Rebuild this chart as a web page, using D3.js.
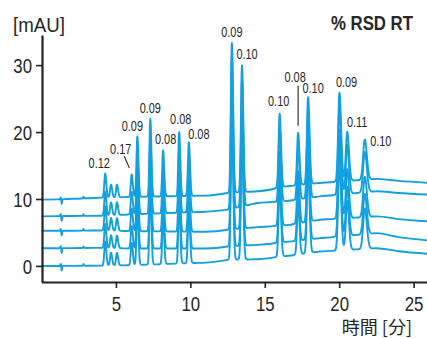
<!DOCTYPE html>
<html><head><meta charset="utf-8">
<script src="https://cdn.jsdelivr.net/npm/d3@7/dist/d3.min.js"></script>
<style>
body{margin:0;background:#fff;}
svg{display:block;}
text{font-family:"Liberation Sans",Arial,sans-serif;fill:#262626;}
</style></head><body><svg id="c" width="427" height="338"></svg>
<script>
// ---- data ----
const peakTimes = [4.28, 4.67, 5.07, 6.06, 6.44, 7.31, 8.17, 9.25, 9.90, 12.79, 13.47, 16.00, 17.24, 17.91, 20.02, 20.54, 21.72];
const peakApex  = [13.8, 12.15, 12.15, 13.65, 19.4, 22.0, 17.3, 20.0, 18.5, 33.35, 30.0, 22.75, 19.9, 25.25, 25.9, 20.05, 18.9];
const peakSigma = [0.06, 0.06, 0.06, 0.06, 0.058, 0.058, 0.058, 0.058, 0.062, 0.068, 0.068, 0.072, 0.072, 0.078, 0.088, 0.092, 0.11];
const rsdLabels = ["0.12", "", "", "0.17", "0.09", "0.09", "0.08", "0.08", "0.08", "0.09", "0.10", "0.10", "0.08", "0.10", "0.09", "0.11", "0.10"];
const artifactTimes   = [1.29, 1.36, 2.82];
const artifactHeights = [0.3, -0.7, 0.25];
const baselineTimes = [0, 1.2, 4, 6, 11, 12.5, 14.5, 16.5, 18.7, 22.5, 24, 26];
const traceA = [9.9, 9.95, 10.2, 10.3, 10.5, 10.9, 11.15, 11.9, 12.4, 13.0, 12.7, 12.4];
const traceB = [7.4, 7.45, 7.5, 7.7, 8.1, 8.4, 9.4, 9.7, 10.4, 11.15, 10.9, 10.65];
const traceC = [5.25, 5.25, 5.3, 5.2, 5.1, 5.4, 5.8, 6.1, 6.9, 7.4, 7.0, 6.65];
const traceD = [2.65, 2.65, 2.7, 2.6, 2.6, 2.9, 3.15, 3.6, 4.15, 4.9, 4.3, 3.8];
const traceE = [0, 0, 0.05, 0.1, 0.5, 0.9, 1.0, 1.5, 2.15, 2.65, 2.2, 1.8];
const xTicks = [5, 10, 15, 20, 25];
const yTicks = [0, 10, 20, 30];
const yUnit = "[mAU]";
const xTitle = "時間 [分]";
const chartTitle = "% RSD RT";

// ---- layout (pixels) ----
const labelOffsets = [[-6,-11],[0,0],[0,0],[-11,-26],[-5,-10],[0,-10.5],[2.5,-11],[1.5,-13],[10,-8],[0,-10.5],[5,-11],[-1,-13],[-3,-56],[5,-9],[7,-11],[10,-10],[16,2]];
const leaders = {3: [[-7.4,-18.3],[-2.4,-6.7]], 12: [[0,-47],[0,-7]]};

const svg = d3.select("#c");
const x = d3.scaleLinear().domain([0, 26]).range([41.5, 428.5]);
const y = d3.scaleLinear().domain([-2.4, 34.5]).range([282, 35]);
const color = "#12a0e0";

const traces = [traceE, traceD, traceC, traceB, traceA];
const baseA = d3.scaleLinear().domain(baselineTimes).range(traceA);
const peakHeights = peakTimes.map((t, i) => peakApex[i] - baseA(t));

// sample times: baseline knots + points around each peak
const offs = [-4,-3,-2.4,-1.8,-1.3,-0.9,-0.5,-0.2,0,0.2,0.5,0.9,1.3,1.8,2.4,3.2,4.2,5.5];
let ts = baselineTimes.slice();
peakTimes.forEach((t, i) => offs.forEach(o => ts.push(t + o * peakSigma[i] * (o > 0 ? 1.25 : 1))));
artifactTimes.forEach(t => [-0.12,-0.06,-0.03,0,0.03,0.06,0.12].forEach(o => ts.push(t + o)));
ts = Array.from(new Set(ts.map(t => +t.toFixed(4)))).filter(t => t >= 0 && t <= 26).sort((a, b) => a - b);

function peakSum(t) {
  let s = 0;
  peakTimes.forEach((tp, i) => {
    const d = t - tp, sg = d < 0 ? peakSigma[i] : peakSigma[i] * 1.25;
    s += peakHeights[i] * Math.exp(-d * d / (2 * sg * sg));
  });
  artifactTimes.forEach((tp, i) => {
    const d = t - tp;
    s += artifactHeights[i] * Math.exp(-d * d / (2 * 0.025 * 0.025));
  });
  return s;
}

const line = d3.line().x(d => x(d[0])).y(d => y(d[1])).curve(d3.curveMonotoneX);
traces.forEach(tr => {
  const base = d3.scaleLinear().domain(baselineTimes).range(tr);
  const pts = ts.map(t => [t, base(t) + peakSum(t)]);
  svg.append("path").attr("d", line(pts)).attr("fill", "none")
    .attr("stroke", color).attr("stroke-width", 1.9).attr("stroke-linejoin", "round");
});

// condensed text helper
function ctext(px, py, str, size, anchor, sx, weight, family) {
  const g = svg.append("g").attr("transform", `translate(${px},${py}) scale(${sx},1)`);
  const t = g.append("text").attr("text-anchor", anchor || "start").style("font-size", size + "px").text(str);
  if (weight) t.style("font-weight", weight);
  if (family) t.style("font-family", family);
  return t;
}

// axes
const axCol = "#222";
const tsx = 0.8;
const gy = svg.append("g").attr("transform", "translate(42,0)")
  .call(d3.axisLeft(y).tickValues(yTicks).tickSize(6).tickSizeOuter(0).tickPadding(3));
const gx = svg.append("g").attr("transform", "translate(0,282)")
  .call(d3.axisBottom(x).tickValues(xTicks).tickSize(6).tickSizeOuter(0).tickPadding(8));
[gy, gx].forEach(g => {
  g.select(".domain").attr("stroke", axCol).attr("stroke-width", 2.2);
  g.selectAll(".tick line").attr("stroke", axCol).attr("stroke-width", 1.6);
  g.selectAll(".tick text").attr("fill", "#262626").style("font-size", "21px")
    .style("font-family", '"Liberation Sans",Arial,sans-serif')
    .attr("transform", `scale(${tsx},1)`);
});
gy.selectAll(".tick text").attr("x", -10 / tsx).attr("dy", "0.36em");

// peak labels
peakTimes.forEach((t, i) => {
  if (!rsdLabels[i]) return;
  const px = x(t), py = y(peakApex[i]);
  ctext(px + labelOffsets[i][0], py + labelOffsets[i][1] + 5, rsdLabels[i], 14, "middle", 0.78);
  if (leaders[i]) {
    const l = leaders[i];
    svg.append("line").attr("x1", px + l[0][0]).attr("y1", py + l[0][1])
      .attr("x2", px + l[1][0]).attr("y2", py + l[1][1]).attr("stroke", "#222").attr("stroke-width", 1.1);
  }
});

ctext(13, 32, yUnit, 21, "start", 0.89);
ctext(413, 30, chartTitle, 21, "end", 0.8, "bold");
svg.append("text").attr("x", 412).attr("y", 334).attr("text-anchor", "end")
  .style("font-size", "18px").style("font-family", '"Noto Sans CJK JP",sans-serif').text(xTitle);
</script></body></html>
